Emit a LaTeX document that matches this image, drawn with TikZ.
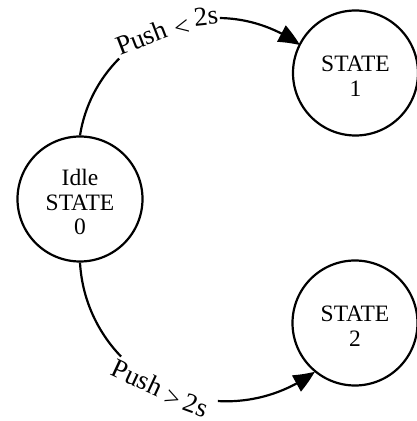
\documentclass[tikz,border=0pt]{standalone}
\usepackage{fontspec}
\setmainfont{Liberation Serif}
\usetikzlibrary{arrows.meta,bending,calc}
\begin{document}
\begin{tikzpicture}[x=1pt,y=1pt,
  statecirc/.style={circle,draw,line width=2.2pt,minimum size=125pt,inner sep=0pt},
  statetext/.style={align=center,font=\fontsize{23.5}{24.5}\selectfont,inner sep=0pt},
  edge/.style={line width=2.2pt},
  tip/.style={-{Triangle[length=22pt,width=18pt,bend]}},
  ch/.style={inner sep=0pt,font=\fontsize{27}{27}\selectfont,rotate=#1}
]
\useasboundingbox (0,0) rectangle (416,421);
% states
\node[statecirc] (idle) at (80,222) {};
\node[statecirc] (s1) at (355.5,348) {};
\node[statecirc] (s2) at (355,98) {};
\node[statetext] (idlet) at ([yshift=-3pt]idle.center) {Idle\\STATE\\0};
\node[statetext] (s1t) at ([yshift=-3pt]s1.center) {STATE\\1};
\node[statetext] (s2t) at ([yshift=-3pt]s2.center) {STATE\\2};
% arc centres
\coordinate (cu) at (217.4,263.4);
\coordinate (cl) at (226.4,166.7);
% upper transition
\draw[edge] (idle.north) arc[start angle=171,end angle=135,radius=139.6pt];
\draw[edge,tip] ($(cu)+(89:139.6pt)$) coordinate (u3)
  arc[start angle=89,end angle=53.7,radius=139.6pt];
\node[ch=21] (ua) at (141.5,383.5) {Push};
\node[ch=12] (ue) at (182,393) {<};
\node[ch=6]  (uf) at (206,405) {2s};
% lower transition
\draw[edge] (idle.south) arc[start angle=183.2,end angle=224,radius=147pt];
\draw[edge,tip] ($(cl)+(266.7:147pt)$) coordinate (l3)
  arc[start angle=266.7,end angle=307,radius=147pt];
\node[ch=-25] (la) at (137.5,43.5) {Push};
\node[ch=-22] (le) at (172,22) {>};
\node[ch=-20] (lf) at (196,15.5) {2s};
\end{tikzpicture}
\end{document}
